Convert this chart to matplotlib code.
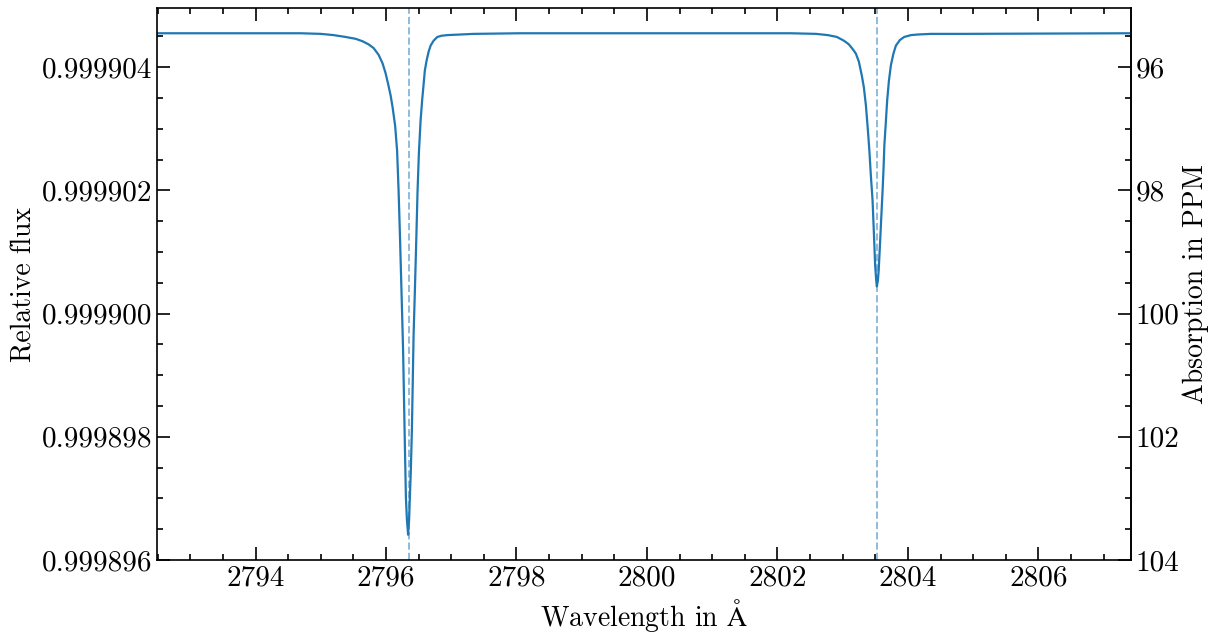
import numpy as np
import matplotlib
matplotlib.use("Agg")
import matplotlib.pyplot as plt
from matplotlib.ticker import MultipleLocator, FixedLocator, FormatStrFormatter

plt.rcParams["font.family"] = "serif"
plt.rcParams["font.serif"] = ["cmr10"]
plt.rcParams["mathtext.fontset"] = "cm"
plt.rcParams["axes.formatter.use_mathtext"] = True

# Mg II doublet line centres (Angstrom)
line_centres = [2796.35, 2803.53]

# wavelength samples (Angstrom)
wavelength = [
    2792.49, 2794.69, 2795.00, 2795.196, 2795.380, 2795.534, 2795.641,
    2795.733, 2795.810, 2795.887, 2795.948, 2795.994, 2796.032, 2796.071,
    2796.101, 2796.140, 2796.170, 2796.193, 2796.216, 2796.247, 2796.262,
    2796.285, 2796.305, 2796.321, 2796.339, 2796.354, 2796.366, 2796.381,
    2796.397, 2796.423, 2796.443, 2796.464, 2796.484, 2796.504, 2796.530,
    2796.554, 2796.572, 2796.596, 2796.623, 2796.653, 2796.684, 2796.730,
    2796.787, 2796.853, 2796.940, 2797.144, 2797.344, 2798.06, 2800.825,
    2802.205, 2802.589, 2802.773, 2802.911, 2803.018, 2803.095, 2803.156,
    2803.202, 2803.248, 2803.294, 2803.325, 2803.356, 2803.387, 2803.409,
    2803.432, 2803.458, 2803.483, 2803.498, 2803.514, 2803.524, 2803.540,
    2803.552, 2803.575, 2803.593, 2803.612, 2803.627, 2803.639, 2803.663,
    2803.682, 2803.709, 2803.739, 2803.778, 2803.816, 2803.877, 2803.943,
    2804.046, 2804.153, 2804.353, 2804.81, 2807.42,
]

# absorption depth in ppm at each wavelength sample
absorption_ppm = [
    95.45, 95.45, 95.46, 95.48, 95.51, 95.54, 95.58,
    95.63, 95.69, 95.80, 95.94, 96.10, 96.27, 96.46,
    96.65, 96.95, 97.35, 98.00, 98.81, 100.00, 100.59,
    101.89, 102.98, 103.35, 103.59, 103.35, 102.98, 102.54,
    101.89, 100.35, 99.62, 98.81, 98.00, 97.40, 96.87,
    96.54, 96.33, 96.05, 95.89, 95.75, 95.65, 95.57,
    95.51, 95.49, 95.48, 95.47, 95.46, 95.45, 95.45,
    95.45, 95.46, 95.48, 95.51, 95.57, 95.63, 95.71,
    95.78, 95.91, 96.14, 96.33, 96.62, 97.03, 97.35,
    97.76, 98.16, 98.81, 99.22, 99.46, 99.56, 99.46,
    99.30, 98.81, 98.41, 98.00, 97.63, 97.27, 96.87,
    96.54, 96.22, 95.97, 95.78, 95.65, 95.56, 95.51,
    95.48, 95.47, 95.46, 95.46, 95.45,
]

# right axis tick values (ppm)
ppm_major = [96, 98, 100, 102, 104]
ppm_minor = [95.5, 96.5, 97, 97.5, 98.5, 99, 99.5, 100.5, 101, 101.5,
             102.5, 103, 103.5]

wl = np.array(wavelength)
flux = 1.0 - np.array(absorption_ppm) * 1e-6

fig = plt.figure(figsize=(12.18, 6.35), dpi=100)
ax = fig.add_axes([0.1289, 0.1181, 0.7997, 0.8693])

ax.plot(wl, flux, color="C0", lw=1.6)
for c in line_centres:
    ax.axvline(c, color="C0", alpha=0.5, ls="--", lw=1.4)

ax.set_xlim(2792.49, 2807.42)
ax.set_ylim(0.999896, 0.99990496)

ax.xaxis.set_major_locator(MultipleLocator(2))
ax.xaxis.set_minor_locator(MultipleLocator(0.5))
ax.xaxis.set_major_formatter(FormatStrFormatter("%d"))
ax.yaxis.set_major_locator(MultipleLocator(2e-6))
ax.yaxis.set_minor_locator(MultipleLocator(0.5e-6))
ax.yaxis.set_major_formatter(FormatStrFormatter("%.6f"))

ax.tick_params(which="both", direction="in", top=True, right=False,
               labelsize=21, width=1.2)
ax.tick_params(which="major", length=9.5)
ax.tick_params(which="minor", length=4.5)
for s in ax.spines.values():
    s.set_linewidth(1.2)

ax.set_xlabel(r"Wavelength in $\mathrm{\AA}$", fontsize=20, labelpad=4)
ax.set_ylabel("Relative flux", fontsize=20, labelpad=3)

sec = ax.secondary_yaxis("right", functions=(lambda f: (1 - f) * 1e6,
                                              lambda p: 1 - p * 1e-6))
sec.yaxis.set_major_locator(FixedLocator(ppm_major))
sec.yaxis.set_minor_locator(FixedLocator(ppm_minor))
sec.yaxis.set_major_formatter(FormatStrFormatter("%d"))
sec.tick_params(which="both", direction="in", labelsize=21, width=1.2)
sec.tick_params(which="major", length=9.5)
sec.tick_params(which="minor", length=4.5)
sec.spines["right"].set_linewidth(1.2)
sec.set_ylabel("Absorption in PPM", fontsize=20, labelpad=2)

fig.savefig("out.png", dpi=100)
